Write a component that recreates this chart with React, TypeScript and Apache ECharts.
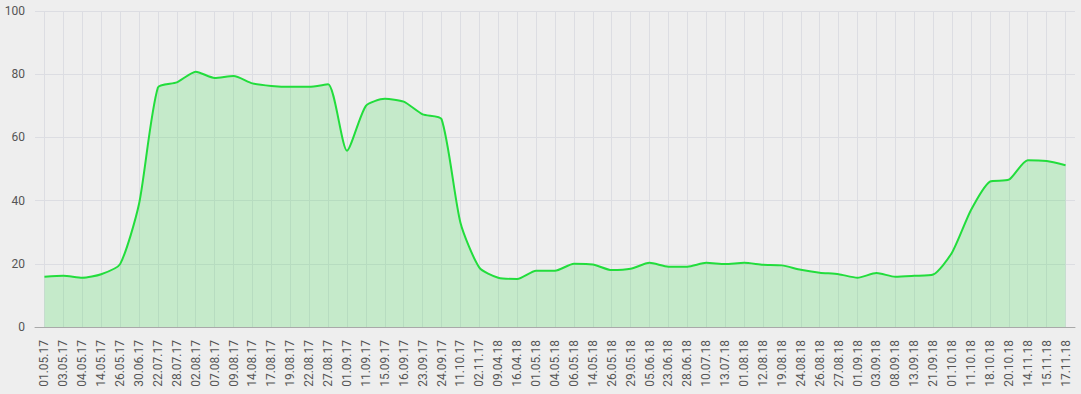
import React, { useEffect, useRef } from "react";
import * as echarts from "echarts";

const categories: string[] = [
  "01.05.17", "03.05.17", "04.05.17", "14.05.17", "26.05.17", "30.06.17", "22.07.17", "28.07.17",
  "02.08.17", "07.08.17", "09.08.17", "14.08.17", "17.08.17", "19.08.17", "22.08.17", "27.08.17",
  "01.09.17", "11.09.17", "15.09.17", "16.09.17", "23.09.17", "24.09.17", "11.10.17", "02.11.17",
  "09.04.18", "16.04.18", "01.05.18", "04.05.18", "06.05.18", "14.05.18", "26.05.18", "29.05.18",
  "05.06.18", "23.06.18", "28.06.18", "10.07.18", "13.07.18", "01.08.18", "12.08.18", "19.08.18",
  "24.08.18", "26.08.18", "27.08.18", "01.09.18", "03.09.18", "08.09.18", "13.09.18", "21.09.18",
  "01.10.18", "11.10.18", "18.10.18", "20.10.18", "14.11.18", "15.11.18", "17.11.18",
];

const values: number[] = [
  15.9, 16.2, 15.6, 16.7, 19.9, 38.9, 75.8, 77.4,
  80.8, 78.8, 79.4, 77.1, 76.3, 76.0, 76.0, 76.8,
  55.8, 70.0, 72.2, 71.3, 67.3, 65.8, 33.0, 18.8,
  15.6, 15.2, 17.8, 17.8, 20.0, 19.8, 18.0, 18.4,
  20.3, 19.1, 19.1, 20.3, 19.9, 20.3, 19.7, 19.5,
  18.1, 17.2, 16.7, 15.6, 17.1, 15.9, 16.2, 16.6,
  23.6, 37.0, 46.0, 46.6, 52.8, 52.5, 51.2,
];

const yTicks = { min: 0, max: 100, interval: 20 };

const LINE_COLOR = "#22dd3c";

export default function App() {
  const ref = useRef<HTMLDivElement>(null);
  useEffect(() => {
    if (!ref.current) return;
    const chart = echarts.init(ref.current, undefined, { renderer: "svg" });
    chart.setOption({
      animation: false,
      backgroundColor: "#eeeeee",
      textStyle: { fontFamily: "Roboto, 'Open Sans', sans-serif" },
      grid: { left: 35, right: 6, top: 11, bottom: 67, containLabel: false },
      xAxis: {
        type: "category",
        data: categories,
        boundaryGap: true,
        axisLine: { show: true, lineStyle: { color: "#a9a9a9", width: 1 } },
        axisTick: { show: false },
        axisLabel: {
          rotate: 90,
          interval: 0,
          margin: 13,
          fontSize: 12,
          color: "#555555",
        },
        splitLine: {
          show: true,
          alignWithLabel: true,
          lineStyle: { color: "#dcdde2", width: 1 },
        },
      },
      yAxis: {
        type: "value",
        min: yTicks.min,
        max: yTicks.max,
        interval: yTicks.interval,
        axisLine: { show: false },
        axisTick: { show: false },
        axisLabel: { fontSize: 12, color: "#555555", margin: 10 },
        splitLine: { show: true, lineStyle: { color: "#dcdde2", width: 1 } },
      },
      series: [
        {
          type: "line",
          data: values,
          smooth: 0.22,
          showSymbol: false,
          symbol: "none",
          lineStyle: { color: LINE_COLOR, width: 2 },
          itemStyle: { color: LINE_COLOR },
          areaStyle: { color: LINE_COLOR, opacity: 0.2 },
        },
      ],
    });
    return () => chart.dispose();
  }, []);
  return (
    <div
      ref={ref}
      style={{ position: "fixed", left: 0, top: 0, width: 1081, height: 394 }}
    />
  );
}
